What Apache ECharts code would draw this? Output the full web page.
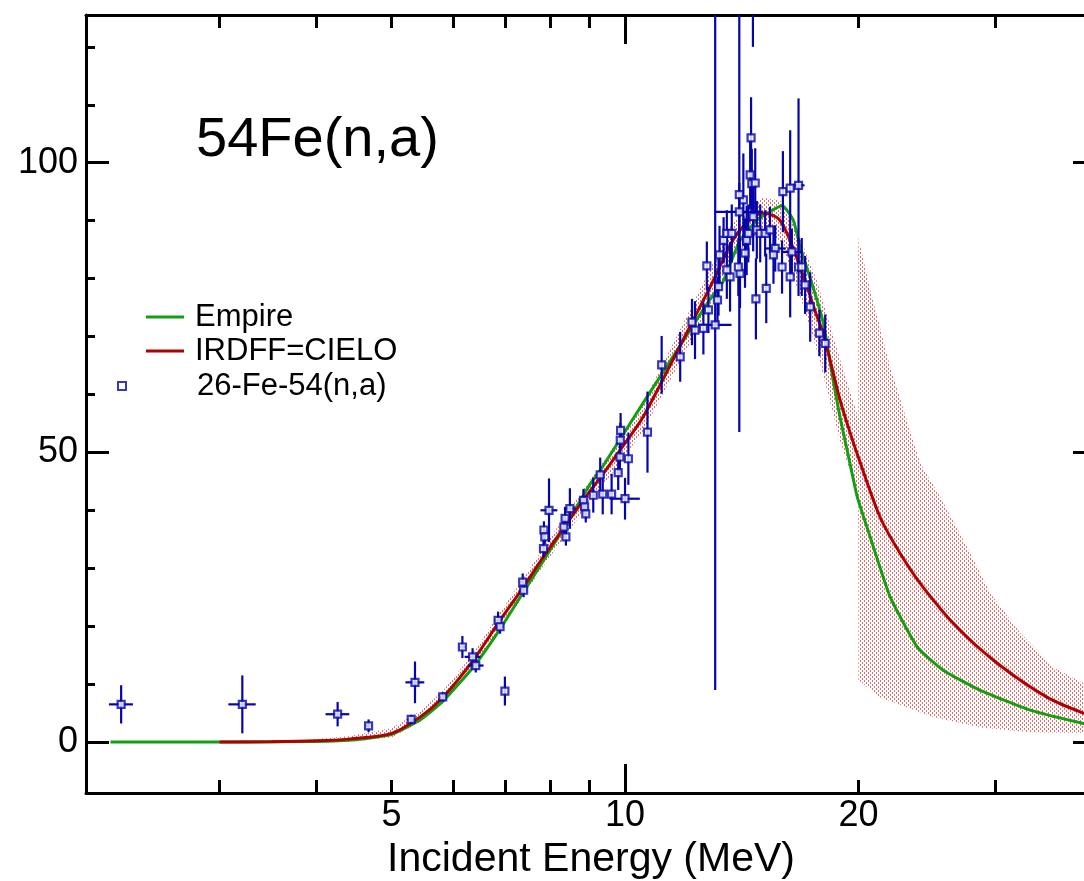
<!DOCTYPE html>
<html>
<head>
<meta charset="utf-8">
<script src="https://cdn.jsdelivr.net/npm/echarts@6/dist/echarts.min.js"></script>
<style>
html,body{margin:0;padding:0;background:#fff;}
#chart{width:1084px;height:881px;}
</style>
</head>
<body>
<div id="chart"></div>
<script>
// ---------------- data ----------------
const titleText = '54Fe(n,a)';
const xAxisName = 'Incident Energy (MeV)';
const xLabelTicks = [5, 10, 20];
const xMajorTicks = [10];
const xMinorTicks = [3, 4, 5, 6, 7, 8, 9, 20, 30];
const yMajorTicks = [0, 50, 100];
const yMinorTicks = [10, 20, 30, 40, 60, 70, 80, 90, 110, 120];

const empireE = [2.17,3.0,4.0,4.5,5.0,5.44,5.82,6.37,6.90,7.39,7.84,8.42,9.01,9.29,10.0,10.55,11.88,12.13,12.87,13.38,14.07,14.80,15.26,15.95,16.48,16.82,17.48,18.02,18.55,18.94,19.34,19.93,20.71,21.98,23.82,25.72,28.72,33.32,39.0,40.5];
const empireY = [0,0,0.1,0.4,1.3,3.8,7.0,12.9,19.5,25.8,31.2,37.8,44.5,46.9,53.6,58.5,69.2,71.1,76.4,79.5,86.6,90.1,91.3,92.6,90.1,85.5,78.5,72.3,62.5,56.0,50.4,42.3,35.4,25.0,16.4,12.4,8.9,5.5,3.2,2.9];

const cieloE = [3.0,3.5,4.0,4.4,5.0,5.44,5.82,6.37,6.90,7.39,7.84,8.42,9.01,9.29,10.0,10.55,11.88,12.87,13.79,14.4,15.03,15.85,16.82,17.69,18.02,18.94,19.5,19.99,21.33,22.63,24.24,26.81,30.2,35.04,39.0,40.5];
const cieloY = [0,0.05,0.2,0.5,1.5,4.3,7.7,14.1,21.0,26.7,31.9,37.8,43.3,45.6,51.6,56.1,69.4,78.5,86.7,89.8,91.3,90.0,82.0,73.4,70.5,59.0,53.5,49.2,38.8,32.6,26.7,19.8,13.6,7.7,5.0,4.5];

const bandUpperE = [3.9,4.4,5.0,5.44,5.82,6.37,6.90,7.39,7.84,8.42,9.01,9.29,10.0,10.55,11.88,12.87,13.79,15.03,15.85,16.82,17.69,18.94,19.99,20.0,20.71,21.98,23.53,24.03,25.50,27.63,29.58,32.34,35.67,39.1,40.5];
const bandUpperY = [0.4,1.0,2.4,5.3,8.8,15.3,22.4,28.2,33.5,39.5,45.2,47.6,53.8,58.5,72.2,81.6,90.0,94.0,93.5,87.0,79.5,66.0,56.0,87.0,78.0,64.7,52.0,48.1,42.3,33.6,25.7,18.8,12.9,10.1,9.5];
const bandLowerE = [3.9,4.4,5.0,5.44,5.82,6.37,6.90,7.39,7.84,8.42,9.01,9.29,10.0,10.55,11.88,12.87,13.79,15.03,15.85,16.82,17.69,18.94,19.99,20.0,21.33,24.97,28.72,33.32,40.5];
const bandLowerY = [0,0.1,0.8,3.4,6.7,12.9,19.6,25.2,30.3,36.1,41.4,43.6,49.4,53.7,66.6,75.4,83.4,88.5,86.5,77.0,67.5,52.0,42.5,10.7,7.7,4.3,2.5,1.7,1.5];

// experimental points: energy, value, value error, energy error
const expE  = [2.24,3.21,4.26,4.67,5.30,5.36,5.82,6.17,6.36,6.42,7.00,6.86,6.90,7.38,7.40,7.86,7.88,7.85,7.98,8.37,8.34,8.39,8.49,8.84,8.87,8.90,9.10,9.29,9.36,9.61,9.80,9.85,9.86,9.87,10.0,10.1,10.69,11.15,11.78,12.31,12.62,13.07,12.75,12.81,12.2,13.16,13.24,13.40,13.53,13.73,13.66,13.20,13.53,14.07,14.0,14.28,14.35,14.42,14.79,14.94,15.16,15.38,14.63,14.21,14.04,14.04,14.50,14.57,14.72,14.54,14.62,15.62,15.54,16.41,15.94,16.33,16.74,15.21,14.75,15.98,16.33,16.74,16.90,17.07,17.33,17.81,18.12];
const expY  = [6.5,6.5,4.8,2.8,3.9,10.3,7.8,16.4,14.7,13.2,8.8,21.0,19.9,27.6,26.2,36.6,35.4,33.4,40.0,38.6,37.1,35.4,40.3,41.7,40.6,39.4,42.6,46.1,42.8,42.8,46.5,49.2,52.1,53.8,42.0,48.9,53.5,65.1,66.5,71.1,71.4,72.0,82.2,74.6,72.5,76.3,84.1,86.6,87.8,87.8,80.3,78.6,81.5,80.9,82.0,84.4,86.6,87.8,88.4,87.8,87.8,88.4,90.7,93.6,94.5,91.5,97.9,96.4,96.5,104.3,142,85.2,84.1,84.6,82.0,80.3,82.0,78.3,76.5,95.0,95.6,96.1,82.0,78.9,75.1,70.6,68.8];
const expDY = [3.3,5.0,2.1,1.1,0.8,3.6,0.8,1.9,1.5,1.2,2.5,1.5,1.2,1.5,1.2,1.5,1.2,1.5,5.5,2.0,2.0,1.5,3.5,2.0,1.5,1.5,3.0,3.0,3.5,3.5,3.0,3.0,3.0,3.0,3.6,4.5,7.0,5.0,4.3,5.0,4.5,63,4.2,4.0,4.0,4.0,5.0,4.0,4.0,5.0,6.0,5.0,5.0,6,5,6,6,5,5,5,4,4,6,8,41,5,6,6,6,7,22,4,5,4,4.6,7,5,6,7,7,10,15,5,5,6,4,5];
const expDE = [0.08,0.13,0.15,0.04,0.06,0.15,0.05,0.05,0.15,0.15,0.03,0.08,0.08,0.05,0.05,0.03,0.03,0.03,0.2,0.03,0.03,0.03,0.15,0.05,0.05,0.05,0.05,0.05,0.05,0.05,0.05,0.05,0.03,0.03,0.45,0.03,0.03,0.03,0.03,0.03,0.03,0.65,0.03,0,0,0,0,0,0,0,0,0,0,0,0,0,0,0,0,0,0,0,0,0,0,1.0,0,0,0,0,0,0.5,0,0.5,0,0,0,0,0,0,0,0.3,0,0,0,0,0];

// ---------------- styling ----------------
const FONT = 'Liberation Sans, Arial, Helvetica, sans-serif';
const BLUE = '#0505aa';
const GREEN = '#12a012';
const RED = '#b00000';
const X_MIN = 2.018, X_MAX = 40.49, Y_MIN = -8.8, Y_MAX = 125.5;

const pc = document.createElement('canvas');
pc.width = 4; pc.height = 4;
const pctx = pc.getContext('2d');
pctx.fillStyle = 'rgba(222,70,70,0.8)';
pctx.fillRect(0, 0, 1, 2);
pctx.fillRect(2, 2, 1, 2);

const pairs = (xs, ys) => xs.map((x, i) => [x, ys[i]]);
const expData = expE.map((e, i) => [e, expY[i], expDY[i], expDE[i]]);

function xAxisBase(extra) {
  return Object.assign({
    type: 'log', logBase: 10, min: X_MIN, max: X_MAX, gridIndex: 0,
    splitLine: {show: false}, minorTick: {show: false}, minorSplitLine: {show: false},
    axisLine: {show: true, onZero: false, lineStyle: {color: '#000', width: 3}},
    axisLabel: {show: false}, axisTick: {show: false}
  }, extra);
}
function yAxisBase(extra) {
  return Object.assign({
    type: 'value', min: Y_MIN, max: Y_MAX, gridIndex: 0,
    splitLine: {show: false},
    axisLine: {show: true, onZero: false, lineStyle: {color: '#000', width: 3}},
    axisLabel: {show: false}, axisTick: {show: false}
  }, extra);
}

const chart = echarts.init(document.getElementById('chart'), null, {renderer: 'canvas'});
chart.setOption({
  animation: false,
  backgroundColor: '#fff',
  title: {
    text: titleText, left: 196, top: 113, padding: 0,
    textStyle: {fontFamily: FONT, fontSize: 56, fontWeight: 'normal', color: '#000'}
  },
  legend: [
    {
      data: [{name: 'Empire', icon: 'rect'}, {name: 'IRDFF=CIELO', icon: 'rect'}],
      orient: 'vertical', left: 146, top: 300, padding: 0, itemGap: 0,
      itemWidth: 38, itemHeight: 3, selectedMode: false,
      textStyle: {fontFamily: FONT, fontSize: 31, color: '#000', lineHeight: 34, padding: [0, 0, 0, 6]}
    },
    {
      data: [{name: '26-Fe-54(n,a)', icon: 'rect'}],
      orient: 'vertical', left: 117, top: 369, padding: 0,
      itemWidth: 8, itemHeight: 8, selectedMode: false,
      textStyle: {fontFamily: FONT, fontSize: 31, color: '#000', lineHeight: 34, padding: [0, 0, 0, 66]}
    }
  ],
  grid: {left: 86, top: 15, width: 1010, height: 778, containLabel: false, outerBoundsMode: 'none'},
  xAxis: [
    xAxisBase({
      position: 'bottom',
      name: xAxisName, nameLocation: 'middle', nameGap: 44,
      nameTextStyle: {fontFamily: FONT, fontSize: 41, color: '#000'},
      axisTick: {show: true, inside: true, length: 29, lineStyle: {color: '#000', width: 3}, customValues: xMajorTicks},
      axisLabel: {show: true, margin: 5, fontFamily: FONT, fontSize: 36, color: '#000', customValues: xLabelTicks}
    }),
    xAxisBase({
      position: 'bottom', axisLine: {show: false, onZero: false},
      axisTick: {show: true, inside: true, length: 13, lineStyle: {color: '#000', width: 3}, customValues: xMinorTicks}
    }),
    xAxisBase({
      position: 'top',
      axisTick: {show: true, inside: true, length: 29, lineStyle: {color: '#000', width: 3}, customValues: xMajorTicks}
    }),
    xAxisBase({
      position: 'top', axisLine: {show: false, onZero: false},
      axisTick: {show: true, inside: true, length: 13, lineStyle: {color: '#000', width: 3}, customValues: xMinorTicks}
    })
  ],
  yAxis: [
    yAxisBase({
      position: 'left',
      axisTick: {show: true, inside: true, length: 23, lineStyle: {color: '#000', width: 3}, customValues: yMajorTicks},
      axisLabel: {show: true, margin: 8, fontFamily: FONT, fontSize: 36, color: '#000', customValues: yMajorTicks}
    }),
    yAxisBase({
      position: 'left', axisLine: {show: false, onZero: false},
      axisTick: {show: true, inside: true, length: 9, lineStyle: {color: '#000', width: 3}, customValues: yMinorTicks}
    }),
    yAxisBase({
      position: 'right',
      axisTick: {show: true, inside: true, length: 23, lineStyle: {color: '#000', width: 3}, customValues: yMajorTicks}
    }),
    yAxisBase({
      position: 'right', axisLine: {show: false, onZero: false},
      axisTick: {show: true, inside: true, length: 9, lineStyle: {color: '#000', width: 3}, customValues: yMinorTicks}
    })
  ],
  series: [
    {
      name: 'band', type: 'custom', xAxisIndex: 0, yAxisIndex: 0, clip: true, silent: true,
      data: [[bandUpperE[0], bandUpperY[0]]],
      renderItem: function (params, api) {
        const pts = [];
        for (let i = 0; i < bandUpperE.length; i++) pts.push(api.coord([bandUpperE[i], bandUpperY[i]]));
        for (let i = bandLowerE.length - 1; i >= 0; i--) pts.push(api.coord([bandLowerE[i], bandLowerY[i]]));
        return {type: 'polygon', shape: {points: pts}, style: {fill: {image: pc, repeat: 'repeat'}, stroke: null}};
      },
      z: 1
    },
    {
      name: 'Empire', type: 'line', xAxisIndex: 0, yAxisIndex: 0,
      data: pairs(empireE, empireY), showSymbol: false, symbol: 'none', smooth: 0.15,
      lineStyle: {color: GREEN, width: 3}, itemStyle: {color: GREEN}, z: 3
    },
    {
      name: 'IRDFF=CIELO', type: 'line', xAxisIndex: 0, yAxisIndex: 0,
      data: pairs(cieloE, cieloY), showSymbol: false, symbol: 'none', smooth: 0.3,
      lineStyle: {color: RED, width: 3}, itemStyle: {color: RED}, z: 3
    },
    {
      name: 'errorbars', type: 'custom', xAxisIndex: 0, yAxisIndex: 0, clip: true, silent: true,
      data: expData,
      encode: {x: 0, y: 1},
      renderItem: function (params, api) {
        const e = api.value(0), y = api.value(1), dy = api.value(2), de = api.value(3);
        const c = api.coord([e, y]);
        const t = api.coord([e, y + dy]);
        const b = api.coord([e, y - dy]);
        const children = [{type: 'line', shape: {x1: c[0], y1: t[1], x2: c[0], y2: b[1]}, style: {stroke: BLUE, lineWidth: 2.2}}];
        if (de > 0) {
          const l = api.coord([e - de, y]);
          const r = api.coord([e + de, y]);
          children.push({type: 'line', shape: {x1: l[0], y1: c[1], x2: r[0], y2: c[1]}, style: {stroke: BLUE, lineWidth: 2.2}});
        }
        return {type: 'group', children: children};
      },
      z: 4
    },
    {
      name: '26-Fe-54(n,a)', type: 'scatter', xAxisIndex: 0, yAxisIndex: 0,
      data: pairs(expE, expY), symbol: 'rect', symbolSize: 7,
      itemStyle: {color: '#fff', borderColor: BLUE, borderWidth: 2.2}, z: 5
    }
  ]
});
</script>
</body>
</html>
